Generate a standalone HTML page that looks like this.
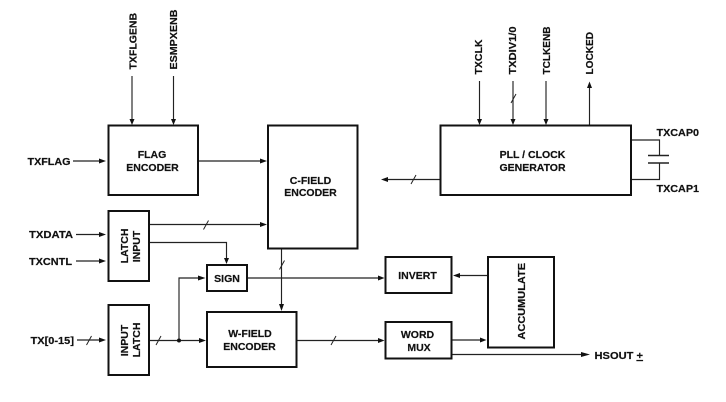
<!DOCTYPE html>
<html><head><meta charset="utf-8"><style>
html,body{margin:0;padding:0;background:#fff;width:726px;height:402px;overflow:hidden}
svg{display:block}
text{font-family:"Liberation Sans",sans-serif;font-weight:bold;font-size:10.5px;fill:#111;stroke:#111;stroke-width:.2}
.b{fill:#fff;stroke:#111;stroke-width:2}
.l{fill:none;stroke:#222;stroke-width:1.15}
.a{fill:#111;stroke:none}
.s{fill:none;stroke:#222;stroke-width:1}
</style></head><body>
<svg width="726" height="402" viewBox="0 0 726 402" xmlns="http://www.w3.org/2000/svg">
<!-- lines -->
<path class="l" d="M132 76V120M173.500 76V120M73 161H102M198 161H263M479.500 81V120M513 81V120M546 81V120M589.500 125V88M440 179.500H387M631 140H659.500V155M631 179.500H659.500V163M149 224.500H263M149 242.500H226.500V259M76 234.500H102M76 261H102M77 340H102M149 340.500H201M179 340.500V278H201M247 278H380M281.500 249V305M296 340.500H380M487 275.500H458M452 340H482M452 354.500H583"/>
<!-- capacitor -->
<path d="M648 155.500H669M648 163H669" fill="none" stroke="#222" stroke-width="1.4"/>
<!-- slashes -->
<path class="s" d="M511 103L516 94M203.500 229.500L208.500 220.500M279.500 269.500L284.500 260.500M86.500 345L91.500 336M156 345L161 336M331 345L336 336M411 184L416 175"/>
<circle cx="179" cy="340.500" r="2" fill="#111"/>
<!-- arrows -->
<g class="a">
<path d="M129.500 119H134.500L132 125ZM171 119H176L173.500 125ZM477 119H482L479.500 125ZM510.500 119H515.500L513 125ZM543.500 119H548.500L546 125ZM587 88H592L589.500 81.500Z"/>
<path d="M99 158.500V163.500L106 161ZM260 158.500V163.500L267 161ZM99 232V237L106 234.500ZM99 258.500V263.500L106 261ZM99 337.500V342.500L106 340ZM198 275.500V280.500L205.500 278ZM199 338V343L206 340.500ZM260 222V227L267 224.500ZM378 275.500V280.500L384.500 278ZM378 338V343L384.500 340.500ZM480 337.500V342.500L486.500 340ZM581 352V357L590 354.500Z"/>
<path d="M224 258H229L226.500 264ZM279 304H284L281.500 311Z"/>
<path d="M388 177V182L381 179.500ZM460 273V278L453 275.500Z"/>
</g>
<!-- boxes -->
<rect class="b" x="108.500" y="125.500" width="89.500" height="69.500"/>
<rect class="b" x="268" y="125.500" width="89.500" height="123"/>
<rect class="b" x="440.500" y="125.500" width="190.500" height="69.500"/>
<rect class="b" x="108.500" y="211" width="40.500" height="70"/>
<rect class="b" x="108.500" y="305" width="40.500" height="70"/>
<rect class="b" x="207" y="265" width="40" height="26"/>
<rect class="b" x="207" y="312" width="89.500" height="55"/>
<rect class="b" x="385.500" y="257" width="66" height="36"/>
<rect class="b" x="385.500" y="322" width="66" height="36.500"/>
<rect class="b" x="488" y="257" width="66" height="90.500"/>
<!-- labels -->
<g text-anchor="middle">
<text x="152" y="158">FLAG</text>
<text x="152.500" y="171">ENCODER</text>
<text x="310.500" y="184">C-FIELD</text>
<text x="310.500" y="196">ENCODER</text>
<text x="532.500" y="158">PLL / CLOCK</text>
<text x="532.500" y="171">GENERATOR</text>
<text x="227" y="282">SIGN</text>
<text x="250" y="337">W-FIELD</text>
<text x="249.500" y="350">ENCODER</text>
<text x="417.500" y="279">INVERT</text>
<text x="417.500" y="338">WORD</text>
<text x="419" y="351">MUX</text>
</g>
<g text-anchor="middle">
<text transform="translate(128 246) rotate(-90)">LATCH</text>
<text transform="translate(140 246.500) rotate(-90)">INPUT</text>
<text transform="translate(128 340.500) rotate(-90)">INPUT</text>
<text transform="translate(140 340) rotate(-90)">LATCH</text>
</g>
<text transform="translate(525 339.500) rotate(-90)" textLength="76.500" lengthAdjust="spacingAndGlyphs">ACCUMULATE</text>
<text transform="translate(136.500 69.500) rotate(-90)">TXFLGENB</text>
<text transform="translate(177 69.500) rotate(-90)" textLength="60" lengthAdjust="spacingAndGlyphs">ESMPXENB</text>
<text transform="translate(482 74.500) rotate(-90)">TXCLK</text>
<text transform="translate(516 74.500) rotate(-90)" textLength="48" lengthAdjust="spacingAndGlyphs">TXDIV1/0</text>
<text transform="translate(550 74.500) rotate(-90)" textLength="48" lengthAdjust="spacingAndGlyphs">TCLKENB</text>
<text transform="translate(593 74.500) rotate(-90)" textLength="42.500" lengthAdjust="spacingAndGlyphs">LOCKED</text>
<text x="27.500" y="165" textLength="43" lengthAdjust="spacingAndGlyphs">TXFLAG</text>
<text x="29" y="238" textLength="44" lengthAdjust="spacingAndGlyphs">TXDATA</text>
<text x="29" y="265" textLength="43" lengthAdjust="spacingAndGlyphs">TXCNTL</text>
<text x="30.500" y="344" textLength="43.500" lengthAdjust="spacingAndGlyphs">TX[0-15]</text>
<text x="656.500" y="136" textLength="42.500" lengthAdjust="spacingAndGlyphs">TXCAP0</text>
<text x="656.500" y="192" textLength="42.500" lengthAdjust="spacingAndGlyphs">TXCAP1</text>
<text x="594.500" y="359" textLength="48.500" lengthAdjust="spacingAndGlyphs">HSOUT <tspan text-decoration="underline">+</tspan></text>
</svg>
</body></html>
